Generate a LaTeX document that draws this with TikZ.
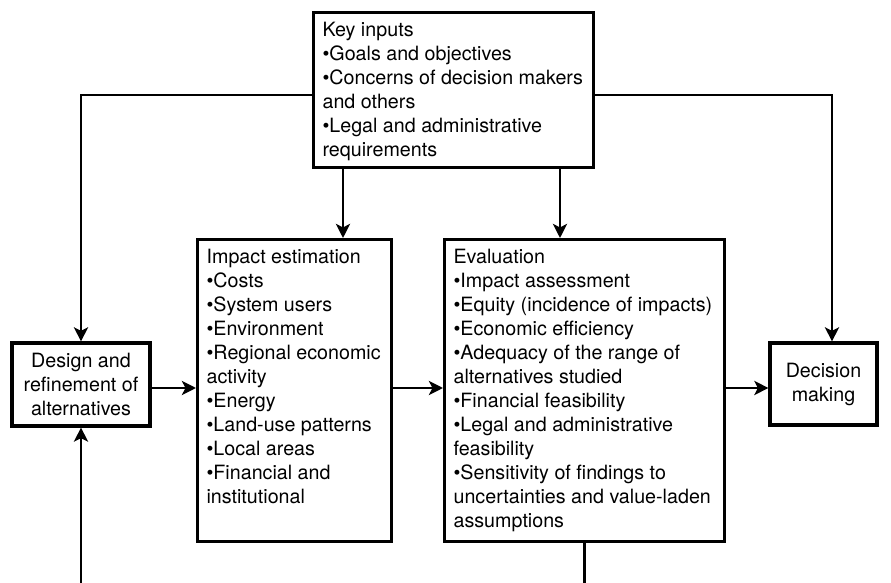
\documentclass[tikz,border=0pt]{standalone}
\usepackage{fontspec}
\setmainfont{TeX Gyre Heros}
\usepackage{tikz}
\usetikzlibrary{arrows.meta,positioning,calc}
\newcommand{\toptext}[3]{\parbox[t][#1][t]{#2}{\raggedright #3}}

\begin{document}
\begin{tikzpicture}[x=0.2mm,y=-0.2mm,>={Stealth[length=8pt,width=8pt,inset=2pt]},
    blk/.style={draw, line width=1.8pt, inner xsep=0.18cm, inner ysep=0.2cm, font=\fontsize{11.2}{13.66}\selectfont},
    link/.style={->, line width=1.5pt}]
\clip (0,0) rectangle (891,583);

% boxes
\node[blk, anchor=north west] (key) at (312,11) {\toptext{2.7cm}{5.24cm}{Key inputs\\
    \textbullet Goals and objectives\\
    \textbullet Concerns~of~decision~makers\\
    and others\\
    \textbullet Legal and administrative\\
    requirements}};
\node[blk, anchor=north west] (impact) at (196,238) {\toptext{5.64cm}{3.52cm}{Impact estimation\\
    \textbullet Costs\\
    \textbullet System users\\
    \textbullet Environment\\
    \textbullet Regional~economic\\
    activity\\
    \textbullet Energy\\
    \textbullet Land-use patterns\\
    \textbullet Local areas\\
    \textbullet Financial and\\
    institutional}};
\node[blk, anchor=north west] (eval) at (443,238) {\toptext{5.64cm}{5.24cm}{Evaluation\\
    \textbullet Impact assessment\\
    \textbullet Equity~(incidence~of~impacts)\\
    \textbullet Economic efficiency\\
    \textbullet Adequacy of the range of\\
    alternatives studied\\
    \textbullet Financial feasibility\\
    \textbullet Legal and administrative\\
    feasibility\\
    \textbullet Sensitivity of findings to\\
    uncertainties~and~value-laden\\
    assumptions}};
\node[blk, align=center, inner xsep=0pt, inner ysep=0pt, minimum width=2.76cm, minimum height=1.66cm] (design) at (81,384.5) {Design and\\refinement of\\alternatives};
\node[blk, align=center, inner xsep=0pt, inner ysep=0pt, minimum width=2.14cm, minimum height=1.64cm] (decision) at (823.5,384) {Decision\\making};

% connectors
\coordinate (ltop) at (81,95);
\coordinate (rtop) at (832,95);
\coordinate (ka) at (343,0);
\coordinate (kb) at (560,0);
\coordinate (mid) at (0,388);
\coordinate (fb) at (81,600);
\draw[link] (key.west |- ltop) -- (ltop) -- (design.north);
\draw[link] (key.east |- rtop) -- (rtop) -- (rtop |- decision.north);
\draw[link] (key.south -| ka) -- (impact.north -| ka);
\draw[link] (key.south -| kb) -- (eval.north -| kb);
\draw[link] (design.east |- mid) -- (impact.west |- mid);
\draw[link] (impact.east |- mid) -- (eval.west |- mid);
\draw[link] (eval.east |- mid) -- (decision.west |- mid);
\draw[link] (eval.south) -- (eval.south |- fb) -- (fb) -- (design.south);
\end{tikzpicture}
\end{document}
